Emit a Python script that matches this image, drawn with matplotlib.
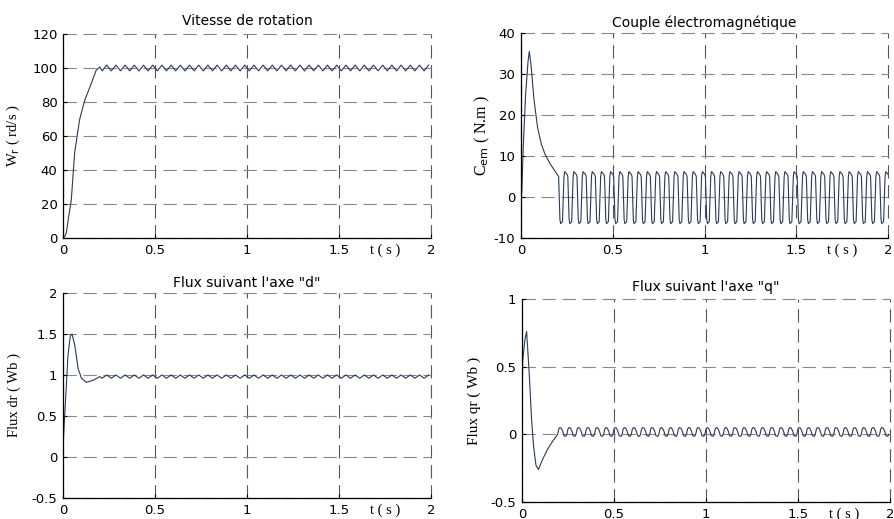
import matplotlib
matplotlib.use('Agg')
import matplotlib.pyplot as plt
import numpy as np

plt.rcParams['font.family'] = 'sans-serif'
plt.rcParams['font.sans-serif'] = ['DejaVu Sans']
plt.rcParams.update({
    'font.size': 9.5,
    'xtick.labelsize': 9.5,
    'ytick.labelsize': 9.5,
    'axes.titlesize': 10,
    'xtick.direction': 'in',
    'ytick.direction': 'in',
    'xtick.major.size': 3,
    'ytick.major.size': 3,
    'xtick.major.pad': 4,
    'ytick.major.pad': 4,
    'axes.linewidth': 0.9,
})

# ---------------- data ----------------
# start-up transients (t in s)
speed_t = [0, 0.01, 0.018, 0.03, 0.045, 0.063, 0.09, 0.118, 0.154, 0.18, 0.2]
speed_v = [0, 1, 3, 12, 22.5, 50, 69.6, 81, 91, 98.6, 100.6]

torque_t = [0, 0.004, 0.012, 0.025, 0.038, 0.045, 0.055, 0.07, 0.09, 0.11, 0.13, 0.16, 0.19, 0.205]
torque_v = [0, 1, 12, 25, 33, 35.5, 32, 24, 17, 13, 10.5, 8, 6, 5]

fluxd_t = [0, 0.004, 0.009, 0.018, 0.027, 0.04, 0.049, 0.064, 0.082, 0.1, 0.127, 0.163, 0.2]
fluxd_v = [0.1, 0.3, 0.5, 0.87, 1.24, 1.48, 1.5, 1.36, 1.08, 0.96, 0.91, 0.935, 0.98]

fluxq_t = [0, 0.004, 0.008, 0.016, 0.025, 0.04, 0.052, 0.063, 0.076, 0.089, 0.112, 0.139, 0.167, 0.194]
fluxq_v = [0.26, 0.55, 0.6, 0.7, 0.76, 0.43, 0.11, -0.09, -0.23, -0.26, -0.185, -0.11, -0.05, 0.0]

# steady-state ripple: one period as read, repeated to the end of the run
ripple_period = 0.05
n_cycles = 36

speed_cyc_t = [0.0125, 0.0375]
speed_cyc_v = [98.3, 101.7]

torque_cyc_t = [0.007, 0.011, 0.021, 0.029, 0.033, 0.046, 0.05]
torque_cyc_v = [-5.5, -6.5, -6.0, 5.0, 6.2, 5.5, 5.0]

fluxd_cyc_t = [0.0125, 0.0375]
fluxd_cyc_v = [0.96, 1.0]

fluxq_cyc_t = [0.006, 0.012, 0.02, 0.028, 0.034, 0.044, 0.05]
fluxq_cyc_v = [0.04, 0.05, 0.045, 0.02, -0.01, -0.015, 0.0]

titles = ['Vitesse de rotation', 'Couple électromagnétique',
          'Flux suivant l\'axe "d"', 'Flux suivant l\'axe "q"']
ylabels = ['W$_{\\mathrm{r}}$ ( rd/s )', 'C$_{\\mathrm{em}}$ ( N.m )',
           'Flux dr ( Wb )', 'Flux qr ( Wb )']
yticks = [[0, 20, 40, 60, 80, 100, 120],
          [-10, 0, 10, 20, 30, 40],
          [-0.5, 0, 0.5, 1, 1.5, 2],
          [-0.5, 0, 0.5, 1]]
ytick_labels = [['0', '20', '40', '60', '80', '100', '120'],
                ['-10', '0', '10', '20', '30', '40'],
                ['-0.5', '0', '0.5', '1', '1.5', '2'],
                ['-0.5', '0', '0.5', '1']]
xticks = [0, 0.5, 1, 1.5, 2]
xtick_labels = ['0', '0.5', '1', '1.5', '2']


def with_ripple(tt, vv, ct, cv):
    t0 = tt[-1]
    t = list(tt)
    v = list(vv)
    for k in range(n_cycles):
        t += [t0 + k * ripple_period + c for c in ct]
        v += list(cv)
    return t, v


series = [with_ripple(speed_t, speed_v, speed_cyc_t, speed_cyc_v),
          with_ripple(torque_t, torque_v, torque_cyc_t, torque_cyc_v),
          with_ripple(fluxd_t, fluxd_v, fluxd_cyc_t, fluxd_cyc_v),
          with_ripple(fluxq_t, fluxq_v, fluxq_cyc_t, fluxq_cyc_v)]

# axes rectangles (figure fraction)
rects = [[0.0705, 0.5414, 0.4116, 0.3931],
         [0.5828, 0.5414, 0.4105, 0.3950],
         [0.0705, 0.0405, 0.4116, 0.3950],
         [0.5839, 0.0328, 0.4116, 0.3911]]
ylabel_x = [-0.111, -0.079, -0.115, -0.111]
ylabel_size = [10.5, 11.5, 10.5, 11]
title_pad = [6.5, 4.5, 4.5, 5.5]

fig = plt.figure(figsize=(8.94, 5.19), dpi=100)

for i in range(4):
    ax = fig.add_axes(rects[i])
    t, v = series[i]
    ax.plot(t, v, color='#2b3a55', lw=0.8)
    ax.set_xlim(0, 2)
    ax.set_ylim(yticks[i][0], yticks[i][-1])
    ax.set_xticks(xticks, xtick_labels)
    ax.set_yticks(yticks[i], ytick_labels[i])
    ax.spines['top'].set_visible(False)
    ax.spines['right'].set_visible(False)
    ax.xaxis.grid(True, color='#555555', lw=0.8, ls=(0, (12, 6)))
    ax.yaxis.grid(True, color='#888888', lw=0.8, ls=(0, (12, 6)))
    for gl in ax.get_xgridlines() + ax.get_ygridlines():
        gl.set_clip_on(False)
    ax.set_title(titles[i], pad=title_pad[i])
    ax.set_ylabel(ylabels[i], family='Liberation Serif', fontsize=ylabel_size[i])
    ax.yaxis.set_label_coords(ylabel_x[i], 0.5)
    ax.text(1.75, -0.025, 't ( s )', transform=ax.get_xaxis_transform(),
            ha='center', va='top', family='Liberation Serif', fontsize=10.5)

plt.savefig('out.png', dpi=100)
